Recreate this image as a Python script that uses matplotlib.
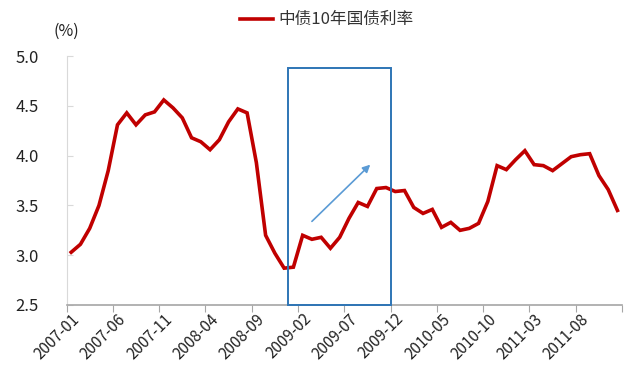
import numpy as np
import matplotlib
matplotlib.use("Agg")
import matplotlib.pyplot as plt
from matplotlib.patches import Rectangle

plt.rcParams["font.family"] = ["Noto Sans CJK SC", "DejaVu Sans"]

# monthly 10y CGB yield (ChinaBond), 2007-01 .. 2011-12
months = [f"{y}-{m:02d}" for y in range(2007, 2012) for m in range(1, 13)]
yields = [3.03, 3.11, 3.27, 3.50, 3.85, 4.31, 4.43, 4.31, 4.41, 4.44,
          4.56, 4.48, 4.38, 4.18, 4.14, 4.06, 4.16, 4.34, 4.47, 4.43,
          3.93, 3.20, 3.02, 2.87, 2.88, 3.20, 3.16, 3.18, 3.07, 3.18,
          3.37, 3.53, 3.49, 3.67, 3.68, 3.64, 3.65, 3.48, 3.42, 3.46,
          3.28, 3.33, 3.25, 3.27, 3.32, 3.54, 3.90, 3.86, 3.96, 4.05,
          3.91, 3.90, 3.85, 3.92, 3.99, 4.01, 4.02, 3.80, 3.66, 3.45]
label_every = 5
y_ticks = [2.5, 3.0, 3.5, 4.0, 4.5, 5.0]

RED = "#C00000"
BLUE = "#2E75B6"
ARROW = "#5B9BD5"

fig = plt.figure(figsize=(6.4, 3.82), dpi=100)
ax = fig.add_axes([0.104, 0.2016, 0.868, 0.6514])

x = np.arange(len(yields))
ax.plot(x, yields, color=RED, lw=2.6, solid_joinstyle="miter",
        label="中债10年国债利率")

# highlighted window + trend arrow
ax.add_patch(Rectangle((23.45, 2.5), 34.5 - 23.45, 4.88 - 2.5, fill=False,
                       ec=BLUE, lw=1.4, zorder=3, clip_on=False))
ax.annotate("", xy=(32.3, 3.91), xytext=(26.0, 3.34),
            arrowprops=dict(arrowstyle="-|>", color=ARROW, lw=1.2,
                            mutation_scale=11, shrinkA=0, shrinkB=0))

ax.set_xlim(-0.5, len(yields) - 0.5)
ax.set_ylim(2.5, 5.0)
ax.set_yticks(y_ticks, [f"{v:.1f}" for v in y_ticks])

# ticks between categories, labels under every 5th category
bounds = np.arange(-0.5, len(yields), label_every)
ax.set_xticks(bounds, [""] * len(bounds))
centers = np.arange(0, len(yields), label_every)
ax.set_xticks(centers, [months[i] for i in centers], minor=True)
ax.tick_params(axis="x", which="major", length=5, color="#a6a6a6", direction="out")
ax.tick_params(axis="x", which="minor", length=0, pad=4, labelsize=11, labelcolor="#222")
for t in ax.get_xticklabels(minor=True):
    t.set_rotation(45)
    t.set_ha("right")
    t.set_rotation_mode("anchor")
ax.tick_params(axis="y", length=4, direction="in", color="#d9d9d9",
               labelsize=12, labelcolor="#222", pad=37)
for t in ax.get_yticklabels():
    t.set_ha("left")

for s in ("top", "right"):
    ax.spines[s].set_visible(False)
ax.spines["left"].set_color("#d9d9d9")
ax.spines["bottom"].set_color("#a6a6a6")
ax.spines["bottom"].set_linewidth(1.2)

fig.text(0.083, 0.918, "(%)", fontsize=11.5, color="#222", va="center")
fig.legend(loc="center", bbox_to_anchor=(0.51, 0.948), frameon=False,
           fontsize=12, handlelength=2.0, handletextpad=0.3,
           labelcolor="#333")

fig.savefig("out.png", dpi=100, facecolor="white")
